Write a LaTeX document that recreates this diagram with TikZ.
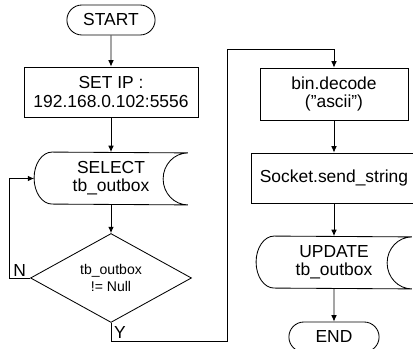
\documentclass[tikz,border=0pt]{standalone}
\usepackage{fontspec}
\setmainfont{Liberation Sans}
\usetikzlibrary{shapes.geometric,shapes.misc,arrows.meta}

\tikzset{
	mainfont/.style={font=\fontsize{12.4}{13}\selectfont},
	box/.style={draw=black, text=black, shape=rectangle, align=center, inner sep=1pt, mainfont},
	terminal/.style={draw=black, text=black, shape=rounded rectangle, minimum height=0.75cm, inner sep=1pt, mainfont},
	store/.style={text=black, shape=rectangle, align=center, minimum height=1.3cm, inner sep=1pt, mainfont},
	decision/.style={draw=black, text=black, shape=diamond, align=center, inner sep=0pt, minimum width=4.025cm, minimum height=2cm, font=\fontsize{10}{12}\selectfont},
	flow/.style={-{Latex[length=4.5pt, width=4pt]}}
}

% outline of a stored-data node: round left side, hollow right side
\newcommand{\drawstore}[1]{\draw ([xshift=0.45cm]#1.north west) arc[start angle=90, end angle=270, x radius=0.45cm, y radius=0.65cm] -- (#1.south east) arc[start angle=270, end angle=90, x radius=0.62cm, y radius=0.65cm] -- cycle;}

\begin{document}
\begin{tikzpicture}[line width=0.6pt]
	\path[use as bounding box, clip] (0,0) rectangle (10.325,8.725);

	% left column
	\node[terminal, minimum width=2.275cm] (start) at (2.775,8.225) {START};
	\node[box, minimum width=4.35cm, minimum height=1.25cm] (setip) at (2.775,6.425) {SET IP :\\192.168.0.102:5556};
	\node[store, minimum width=3.825cm] (select) at (2.775,4.2625) {SELECT\\tb\_outbox};
	\drawstore{select}
	\node[decision] (check) at (2.775,1.775) {tb\_outbox\\!= Null};

	% right column
	\node[box, minimum width=3.7cm, minimum height=1.3cm] (decode) at (8.35,6.375) {bin.decode\\("ascii")};
	\node[box, minimum width=4.15cm, minimum height=1.25cm] (send) at (8.35,4.275) {Socket.send\_string};
	\node[store, minimum width=3.875cm] (update) at (8.35,2.1625) {UPDATE\\tb\_outbox};
	\drawstore{update}
	\node[terminal, minimum width=2.325cm] (end) at (8.35,0.3) {END};

	\coordinate (yup) at (5.675,7.5);

	\draw[flow] (start) -- (setip);
	\draw[flow] (setip) -- (select);
	\draw[flow] (select) -- (check);
	\draw[flow] (check.west) -- node[above, inner sep=1pt, mainfont] {N} ++(-0.525,0) |- (select.west);
	\draw[flow] (check.south) -- node[right, inner sep=2pt, mainfont] {Y} ++(0,-0.475) -| (yup) -| (decode.north);
	\draw[flow] (decode) -- (send);
	\draw[flow] (send) -- (update);
	\draw[flow] (update) -- (end);
\end{tikzpicture}
\end{document}
